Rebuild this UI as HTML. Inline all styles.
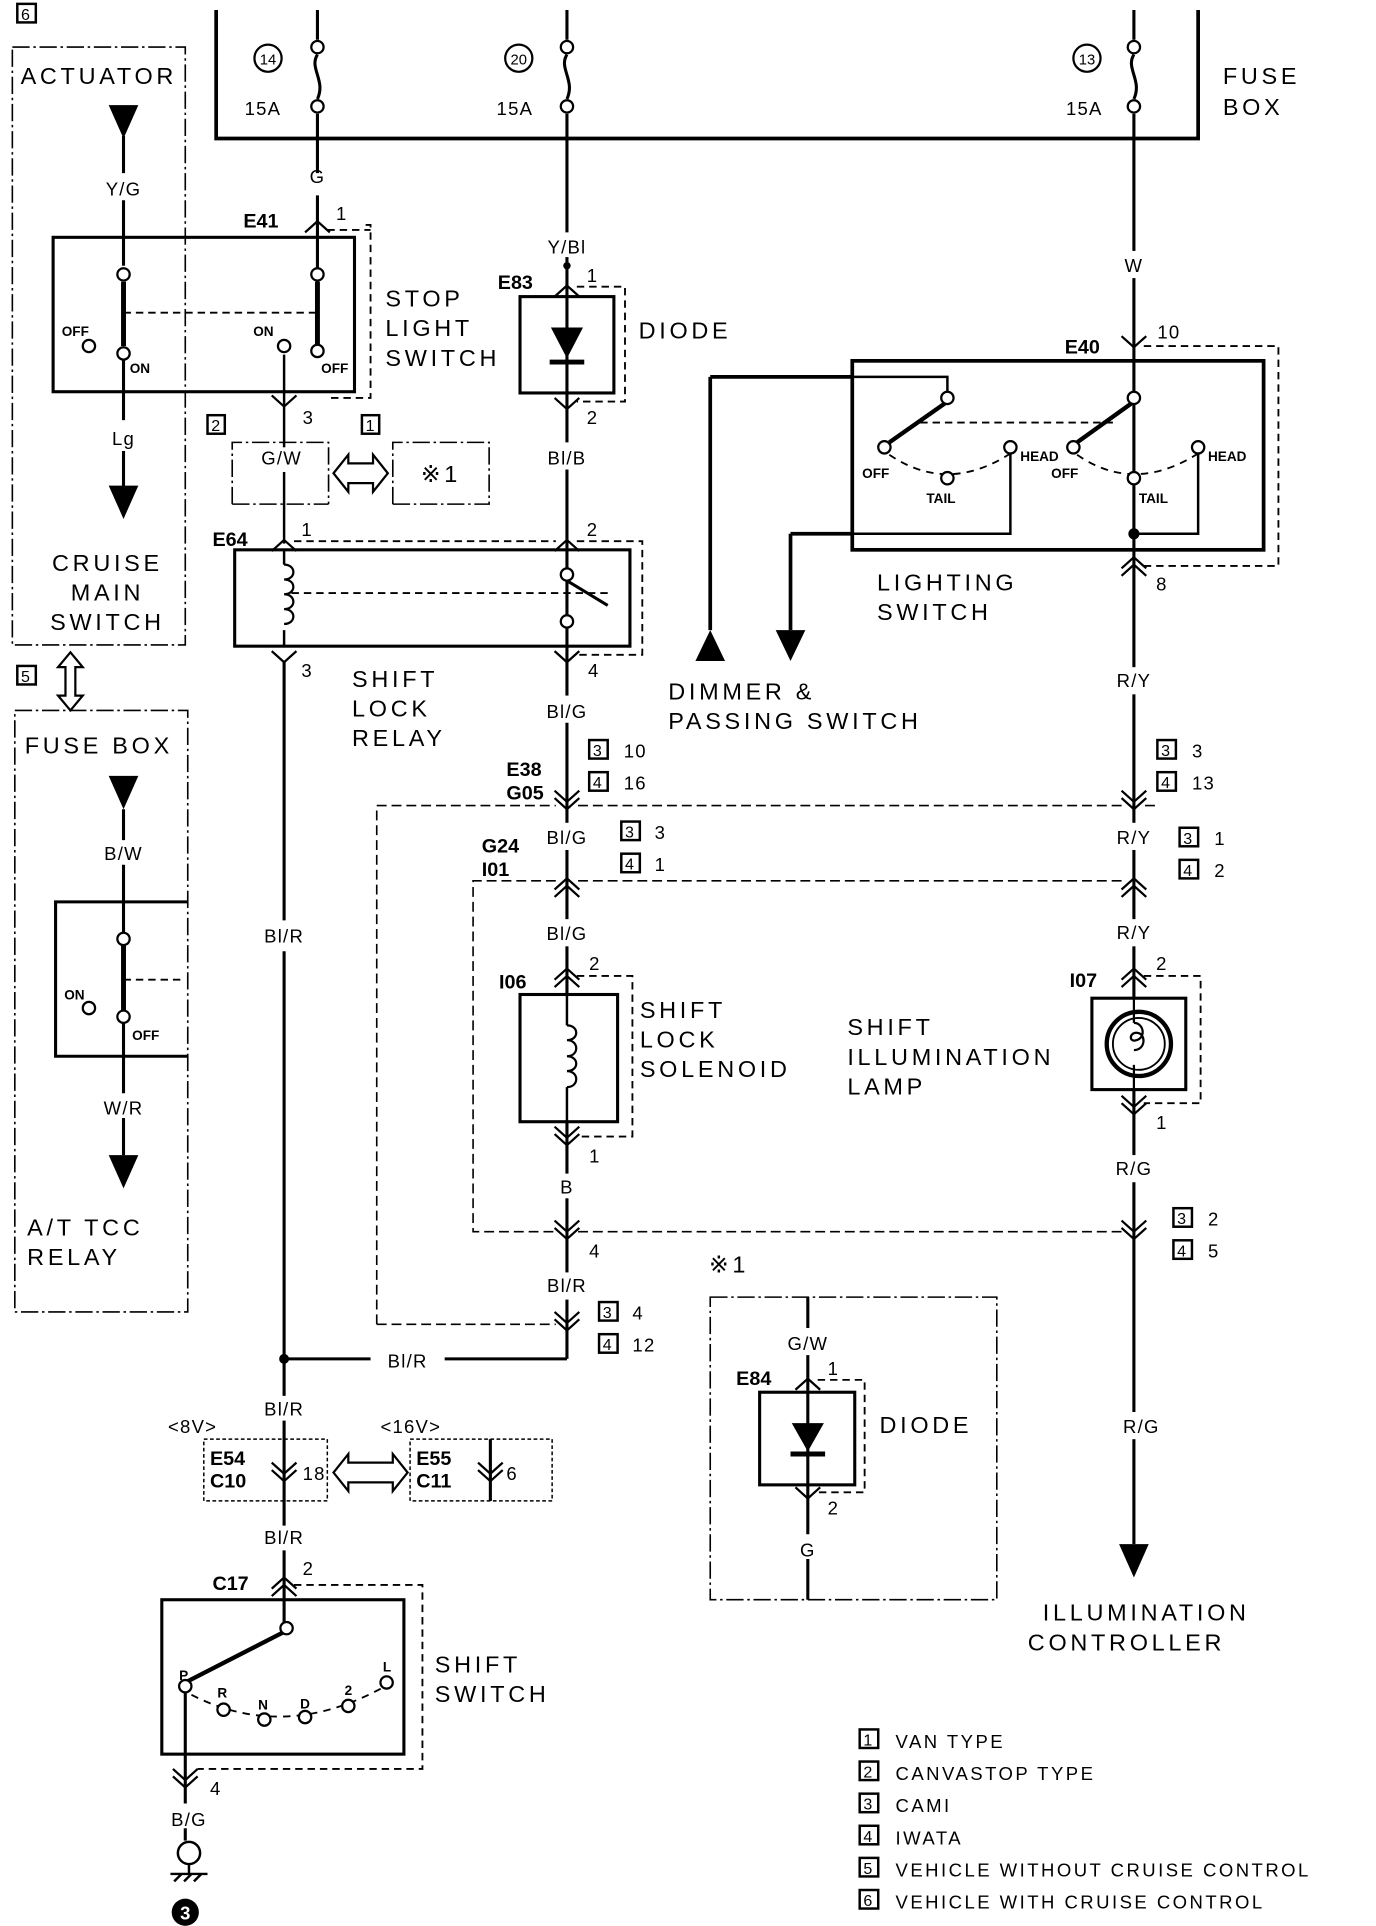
<!DOCTYPE html>
<html><head><meta charset="utf-8"><style>
html,body{margin:0;padding:0;background:#fff;}
svg{display:block;}
text{font-family:"Liberation Sans",sans-serif;fill:#000;}
.t{font-size:19px;letter-spacing:3px;}
.s{font-size:15px;letter-spacing:1px;}
.xs{font-size:11px;font-weight:bold;}
.b{font-size:16px;font-weight:bold;}
</style></head><body>
<svg width="1376" height="1926" viewBox="0 0 1114 1559" xmlns="http://www.w3.org/2000/svg">
<defs>
<g id="cu"><path d="M-10,8 L0,-1 L10,8" fill="none" stroke="#000" stroke-width="1.8"/></g>
<g id="cd"><path d="M-10,-8 L0,1 L10,-8" fill="none" stroke="#000" stroke-width="1.8"/></g>
<g id="cdd"><path d="M-10,-8 L0,1 L10,-8 M-10,-2 L0,7 L10,-2" fill="none" stroke="#000" stroke-width="1.8"/></g>
<g id="cuu"><path d="M-10,8 L0,-1 L10,8 M-10,14 L0,5 L10,14" fill="none" stroke="#000" stroke-width="1.8"/></g>
</defs>
<g stroke="#000" fill="none" stroke-width="2.5">
<path d="M175,8 V112 H970 V8" stroke-width="3"/>
<path d="M257,8 V32 M257,92 V140 M257,158 V280"/>
<path d="M459,8 V32 M459,92 V1100"/>
<path d="M918,8 V32 M918,92 V1250"/>
<path d="M257,44 C250,55 264,65 257,80 M459,44 C452,55 466,65 459,80 M918,44 C911,55 925,65 918,80" stroke-width="2.5"/>
</g>
<g stroke="#000" fill="#fff" stroke-width="1.8">
<circle cx="257" cy="38" r="5"/><circle cx="257" cy="86" r="5"/>
<circle cx="459" cy="38" r="5"/><circle cx="459" cy="86" r="5"/>
<circle cx="918" cy="38" r="5"/><circle cx="918" cy="86" r="5"/>
<circle cx="217" cy="47" r="11"/><circle cx="420" cy="47" r="11"/><circle cx="880" cy="47" r="11"/>
</g>
<text x="217" y="52" text-anchor="middle" style="font-size:12px">14</text>
<text x="420" y="52" text-anchor="middle" style="font-size:12px">20</text>
<text x="880" y="52" text-anchor="middle" style="font-size:12px">13</text>
<text x="198" y="93" class="s">15A</text><text x="402" y="93" class="s">15A</text><text x="863" y="93" class="s">15A</text>
<text x="990" y="68" class="t">FUSE</text><text x="990" y="93" class="t">BOX</text>

<rect x="14" y="3" width="15" height="15" fill="none" stroke="#000" stroke-width="2"/><text x="17" y="16" style="font-size:13px">6</text>
<rect x="10" y="38" width="140" height="484" fill="none" stroke="#000" stroke-width="1.3" stroke-dasharray="14,3,2,3"/>
<text x="80" y="68" class="t" text-anchor="middle">ACTUATOR</text>
<path d="M88,85 H112 L100,112 Z" fill="#000"/>
<g stroke="#000" fill="none" stroke-width="2.5">
<path d="M100,110 V140 M100,162 V215 M100,290 V340 M100,365 V395"/>
<rect x="43" y="192" width="244" height="125"/>
<path d="M100,228 V280 M257,228 V280" stroke-width="4"/>
<path d="M230,287 V440" stroke-width="2"/>
</g>
<path d="M100,253 H257" stroke="#000" stroke-dasharray="6,4" stroke-width="1.5"/>
<path d="M296,182 H300 V322 H265" fill="none" stroke="#000" stroke-dasharray="6,4" stroke-width="1.5"/>
<g stroke="#000" fill="#fff" stroke-width="1.8">
<circle cx="100" cy="222" r="5"/><circle cx="100" cy="286" r="5"/><circle cx="72" cy="280" r="5"/>
<circle cx="257" cy="222" r="5"/><circle cx="257" cy="284" r="5"/><circle cx="230" cy="280" r="5"/>
</g>
<text x="100" y="158" class="s" text-anchor="middle">Y/G</text>
<text x="50" y="272" class="xs">OFF</text><text x="105" y="302" class="xs">ON</text>
<text x="205" y="272" class="xs">ON</text><text x="260" y="302" class="xs">OFF</text>
<text x="100" y="360" class="s" text-anchor="middle">Lg</text>
<path d="M88,393 H112 L100,420 Z" fill="#000"/>
<text x="87" y="462" class="t" text-anchor="middle">CRUISE</text><text x="87" y="486" class="t" text-anchor="middle">MAIN</text><text x="87" y="510" class="t" text-anchor="middle">SWITCH</text>
<text x="257" y="148" class="s" text-anchor="middle">G</text>
<text x="197" y="184" class="b">E41</text><use href="#cu" x="257" y="180"/><text x="272" y="178" class="s">1</text>
<path d="M265,186 H300" stroke="#000" stroke-dasharray="6,4" stroke-width="1.5"/>
<text x="312" y="248" class="t">STOP</text><text x="312" y="272" class="t">LIGHT</text><text x="312" y="296" class="t">SWITCH</text>
<use href="#cd" x="230" y="328"/><text x="245" y="343" class="s">3</text>

<rect x="168" y="336" width="14" height="15" fill="none" stroke="#000" stroke-width="2"/><text x="171" y="349" style="font-size:13px">2</text>
<rect x="293" y="336" width="14" height="15" fill="none" stroke="#000" stroke-width="2"/><text x="296" y="349" style="font-size:13px">1</text>
<path d="M188,408 V358 H266 V408 M318,408 V358 H396 V408 H318 M188,408 H266" fill="none" stroke="#000" stroke-width="1.3" stroke-dasharray="14,3,2,3"/>
<path d="M270,383 L282,368 V375 H302 V368 L314,383 L302,398 V391 H282 V398 Z" fill="#fff" stroke="#000" stroke-width="1.8"/>
<rect x="210" y="362" width="40" height="20" fill="#fff"/>
<text x="228" y="376" class="s" text-anchor="middle">G/W</text>
<text x="357" y="390" class="t" text-anchor="middle">※1</text>

<text x="172" y="442" class="b">E64</text><use href="#cu" x="230" y="438"/><text x="244" y="434" class="s">1</text>
<use href="#cu" x="459" y="438"/><text x="475" y="434" class="s">2</text>
<rect x="190" y="445" width="320" height="78" fill="none" stroke="#000" stroke-width="2.5"/>
<path d="M467,438 H520 V530 H467 M238,438 H450" fill="none" stroke="#000" stroke-dasharray="6,4" stroke-width="1.5"/>
<path d="M230,445 V457 M230,510 V523" stroke="#000" stroke-width="2"/>
<path d="M230,457 c10,0 10,12 0,12 c10,0 10,12 0,12 c10,0 10,12 0,12 c10,0 10,12 0,12" fill="none" stroke="#000" stroke-width="1.8"/>
<path d="M236,480 H492" stroke="#000" stroke-dasharray="6,4" stroke-width="1.5"/>
<path d="M459,470 L492,490" stroke="#000" stroke-width="2.5"/>
<circle cx="459" cy="465" r="5" fill="#fff" stroke="#000" stroke-width="1.8"/><circle cx="459" cy="503" r="5" fill="#fff" stroke="#000" stroke-width="1.8"/>
<use href="#cd" x="230" y="535"/><text x="244" y="548" class="s">3</text>
<use href="#cd" x="459" y="535"/><text x="476" y="548" class="s">4</text>
<text x="285" y="556" class="t">SHIFT</text><text x="285" y="580" class="t">LOCK</text><text x="285" y="604" class="t">RELAY</text>
<path d="M230,535 V745 M230,770 V1130 M230,1150 V1235 M230,1255 V1320" stroke="#000" stroke-width="2.5" fill="none"/>
<text x="230" y="763" class="s" text-anchor="middle">Bl/R</text>

<rect x="440" y="188" width="40" height="20" fill="#fff"/><text x="459" y="205" class="s" text-anchor="middle">Y/Bl</text>
<circle cx="459" cy="215" r="3" fill="#000"/>
<text x="403" y="234" class="b">E83</text><use href="#cu" x="459" y="232"/><text x="475" y="228" class="s">1</text>
<rect x="421" y="240" width="76" height="78" fill="none" stroke="#000" stroke-width="2.5"/>
<path d="M467,232 H506 V325 H467" fill="none" stroke="#000" stroke-dasharray="6,4" stroke-width="1.5"/>
<path d="M446,265 H472 L459,290 Z" fill="#000"/><path d="M445,293 H473" stroke="#000" stroke-width="4"/>
<text x="517" y="274" class="t">DIODE</text>
<use href="#cd" x="459" y="330"/><text x="475" y="343" class="s">2</text>
<rect x="437" y="358" width="44" height="22" fill="#fff"/><text x="459" y="376" class="s" text-anchor="middle">Bl/B</text>
<rect x="437" y="563" width="44" height="22" fill="#fff"/><text x="459" y="581" class="s" text-anchor="middle">Bl/G</text>
<text x="410" y="628" class="b">E38</text><text x="410" y="647" class="b">G05</text>
<use href="#cdd" x="459" y="648"/>
<rect x="477" y="599" width="15" height="15" fill="none" stroke="#000" stroke-width="2"/><text x="480" y="612" style="font-size:13px">3</text><text x="505" y="613" class="s">10</text>
<rect x="477" y="625" width="15" height="15" fill="none" stroke="#000" stroke-width="2"/><text x="480" y="638" style="font-size:13px">4</text><text x="505" y="639" class="s">16</text>

<path d="M305,1072 V652 H450 M468,652 H909 M927,652 H936" fill="none" stroke="#000" stroke-width="1.3" stroke-dasharray="8,4"/>
<path d="M305,1072 H450" fill="none" stroke="#000" stroke-width="1.3" stroke-dasharray="8,4"/>
<path d="M450,713 H383 V997 H450 M468,713 H909 M468,997 H909" fill="none" stroke="#000" stroke-width="1.3" stroke-dasharray="8,4"/>

<rect x="437" y="666" width="44" height="22" fill="#fff"/><text x="459" y="683" class="s" text-anchor="middle">Bl/G</text>
<rect x="503" y="665" width="15" height="15" fill="none" stroke="#000" stroke-width="2"/><text x="506" y="678" style="font-size:13px">3</text><text x="530" y="679" class="s">3</text>
<text x="390" y="690" class="b">G24</text><text x="390" y="709" class="b">I01</text>
<use href="#cuu" x="459" y="712"/>
<rect x="503" y="691" width="15" height="15" fill="none" stroke="#000" stroke-width="2"/><text x="506" y="704" style="font-size:13px">4</text><text x="530" y="705" class="s">1</text>
<rect x="437" y="744" width="44" height="22" fill="#fff"/><text x="459" y="761" class="s" text-anchor="middle">Bl/G</text>
<use href="#cuu" x="459" y="785"/><text x="477" y="785" class="s">2</text>
<text x="404" y="800" class="b">I06</text>
<rect x="421" y="805" width="79" height="103" fill="#fff" stroke="#000" stroke-width="2.5"/>
<path d="M467,790 H512 V920 H467" fill="none" stroke="#000" stroke-dasharray="6,4" stroke-width="1.5"/>
<path d="M459,805 V830 M459,880 V908" stroke="#000" stroke-width="2"/>
<path d="M459,830 c10,0 10,12 0,12 c10,0 10,13 0,13 c10,0 10,12 0,12 c10,0 10,13 0,13" fill="none" stroke="#000" stroke-width="1.8"/>
<text x="518" y="824" class="t">SHIFT</text><text x="518" y="848" class="t">LOCK</text><text x="518" y="872" class="t">SOLENOID</text>
<use href="#cdd" x="459" y="920"/><text x="477" y="941" class="s">1</text>
<rect x="449" y="950" width="20" height="20" fill="#fff"/><text x="459" y="966" class="s" text-anchor="middle">B</text>
<use href="#cdd" x="459" y="996"/><text x="477" y="1018" class="s">4</text>
<rect x="437" y="1030" width="44" height="22" fill="#fff"/><text x="459" y="1046" class="s" text-anchor="middle">Bl/R</text>
<use href="#cdd" x="459" y="1070"/>
<rect x="485" y="1054" width="15" height="15" fill="none" stroke="#000" stroke-width="2"/><text x="488" y="1067" style="font-size:13px">3</text><text x="512" y="1068" class="s">4</text>
<rect x="485" y="1080" width="15" height="15" fill="none" stroke="#000" stroke-width="2"/><text x="488" y="1093" style="font-size:13px">4</text><text x="512" y="1094" class="s">12</text>
<path d="M230,1100 H300 M360,1100 H459" stroke="#000" stroke-width="2.5"/>
<circle cx="230" cy="1100" r="4" fill="#000"/>
<text x="330" y="1107" class="s" text-anchor="middle">Bl/R</text>
<text x="230" y="1146" class="s" text-anchor="middle">Bl/R</text>

<text x="136" y="1160" class="s">&lt;8V&gt;</text><text x="308" y="1160" class="s">&lt;16V&gt;</text>
<rect x="165" y="1165" width="100" height="50" fill="none" stroke="#000" stroke-width="1.2" stroke-dasharray="3,2"/>
<rect x="332" y="1165" width="115" height="50" fill="none" stroke="#000" stroke-width="1.2" stroke-dasharray="3,2"/>
<path d="M397,1165 V1215" stroke="#000" stroke-width="2.5"/>
<text x="170" y="1186" class="b">E54</text><text x="170" y="1204" class="b">C10</text>
<text x="337" y="1186" class="b">E55</text><text x="337" y="1204" class="b">C11</text>
<use href="#cdd" x="230" y="1192"/><text x="245" y="1198" class="s">18</text>
<use href="#cdd" x="397" y="1192"/><text x="410" y="1198" class="s">6</text>
<path d="M270,1192 L282,1177 V1184 H318 V1177 L330,1192 L318,1207 V1200 H282 V1207 Z" fill="#fff" stroke="#000" stroke-width="1.8"/>
<text x="230" y="1250" class="s" text-anchor="middle">Bl/R</text>

<text x="172" y="1287" class="b">C17</text><use href="#cuu" x="230" y="1278"/><text x="245" y="1275" class="s">2</text>
<rect x="131" y="1295" width="196" height="125" fill="none" stroke="#000" stroke-width="2.5"/>
<path d="M238,1283 H342 V1432 H160" fill="none" stroke="#000" stroke-dasharray="6,4" stroke-width="1.5"/>
<path d="M232,1320 L150,1362" stroke="#000" stroke-width="3.5"/>
<path d="M150,1365 V1460" stroke="#000" stroke-width="2.5"/>
<path d="M155,1372 Q230,1410 310,1366" fill="none" stroke="#000" stroke-dasharray="6,5" stroke-width="1.5"/>
<g fill="#fff" stroke="#000" stroke-width="1.8">
<circle cx="232" cy="1318" r="5"/><circle cx="150" cy="1365" r="5"/><circle cx="181" cy="1384" r="5"/><circle cx="214" cy="1392" r="5"/><circle cx="247" cy="1390" r="5"/><circle cx="282" cy="1381" r="5"/><circle cx="313" cy="1362" r="5"/>
</g>
<text x="145" y="1360" class="xs">P</text><text x="176" y="1374" class="xs">R</text><text x="209" y="1384" class="xs">N</text><text x="243" y="1383" class="xs">D</text><text x="279" y="1372" class="xs">2</text><text x="310" y="1353" class="xs">L</text>
<text x="352" y="1354" class="t">SHIFT</text><text x="352" y="1378" class="t">SWITCH</text>
<use href="#cdd" x="150" y="1440"/><text x="170" y="1453" class="s">4</text>
<rect x="130" y="1462" width="44" height="20" fill="#fff"/><text x="153" y="1478" class="s" text-anchor="middle">B/G</text>
<path d="M150,1480 V1490" stroke="#000" stroke-width="2.5"/>
<circle cx="153" cy="1500" r="9" fill="#fff" stroke="#000" stroke-width="2"/>
<path d="M153,1509 V1516 M138,1517 H168 M141,1523 L147,1517 M149,1523 L155,1517 M157,1523 L163,1517" stroke="#000" stroke-width="2"/>
<circle cx="150" cy="1548" r="11" fill="#000"/><text x="150" y="1554" text-anchor="middle" style="font-size:15px;font-weight:bold;fill:#fff">3</text>

<path d="M57,528 L67,540 H61 V563 H67 L57,575 L47,563 H53 V540 H47 Z" fill="#fff" stroke="#000" stroke-width="1.8"/>
<rect x="14" y="539" width="15" height="15" fill="none" stroke="#000" stroke-width="2"/><text x="17" y="552" style="font-size:13px">5</text>
<rect x="12" y="575" width="140" height="487" fill="none" stroke="#000" stroke-width="1.3" stroke-dasharray="14,3,2,3"/>
<text x="80" y="610" class="t" text-anchor="middle">FUSE BOX</text>
<path d="M88,628 H112 L100,655 Z" fill="#000"/>
<path d="M100,655 V680 M100,700 V755 M100,828 V885 M100,905 V935" stroke="#000" stroke-width="2.5"/>
<text x="100" y="696" class="s" text-anchor="middle">B/W</text>
<path d="M152,730 H45 V855 H152" fill="none" stroke="#000" stroke-width="2.5"/>
<path d="M100,765 V818" stroke="#000" stroke-width="4"/>
<path d="M100,793 H150" stroke="#000" stroke-dasharray="6,4" stroke-width="1.5"/>
<g fill="#fff" stroke="#000" stroke-width="1.8"><circle cx="100" cy="760" r="5"/><circle cx="100" cy="823" r="5"/><circle cx="72" cy="816" r="5"/></g>
<text x="52" y="809" class="xs">ON</text><text x="107" y="842" class="xs">OFF</text>
<text x="100" y="902" class="s" text-anchor="middle">W/R</text>
<path d="M88,935 H112 L100,962 Z" fill="#000"/>
<text x="22" y="1000" class="t">A/T TCC</text><text x="22" y="1024" class="t">RELAY</text>

<rect x="905" y="203" width="26" height="22" fill="#fff"/><text x="918" y="220" class="s" text-anchor="middle">W</text>
<text x="862" y="286" class="b">E40</text><use href="#cd" x="918" y="280"/><text x="937" y="274" class="s">10</text>
<path d="M926,280 H1035 V458 H926" fill="none" stroke="#000" stroke-dasharray="6,4" stroke-width="1.5"/>
<rect x="690" y="292" width="333" height="153" fill="none" stroke="#000" stroke-width="3"/>
<path d="M690,305 H767 V318 M690,432 H818 V367 M918,432 H970 V367" fill="none" stroke="#000" stroke-width="2"/>
<path d="M575,305 H690 M640,432 H690" stroke="#000" stroke-width="3"/>
<path d="M575,305 V510 M640,432 V510" stroke="#000" stroke-width="3"/>
<path d="M563,535 H587 L575,510 Z" fill="#000"/><path d="M628,510 H652 L640,535 Z" fill="#000"/>
<path d="M767,325 L720,358 M918,325 L872,358" stroke="#000" stroke-width="3.5"/>
<path d="M745,342 H905" stroke="#000" stroke-dasharray="6,4" stroke-width="1.5"/>
<path d="M720,368 Q767,400 818,367 M872,368 Q918,400 970,367" fill="none" stroke="#000" stroke-dasharray="6,5" stroke-width="1.5"/>
<g fill="#fff" stroke="#000" stroke-width="1.8">
<circle cx="767" cy="322" r="5"/><circle cx="716" cy="362" r="5"/><circle cx="818" cy="362" r="5"/><circle cx="767" cy="387" r="5"/>
<circle cx="918" cy="322" r="5"/><circle cx="869" cy="362" r="5"/><circle cx="970" cy="362" r="5"/><circle cx="918" cy="387" r="5"/>
</g>
<circle cx="918" cy="432" r="4.5" fill="#000"/>
<text x="698" y="387" class="xs">OFF</text><text x="750" y="407" class="xs">TAIL</text><text x="826" y="373" class="xs">HEAD</text>
<text x="851" y="387" class="xs">OFF</text><text x="922" y="407" class="xs">TAIL</text><text x="978" y="373" class="xs">HEAD</text>
<use href="#cuu" x="918" y="452"/><text x="936" y="478" class="s">8</text>
<text x="710" y="478" class="t">LIGHTING</text><text x="710" y="502" class="t">SWITCH</text>
<text x="541" y="566" class="t">DIMMER &amp;</text><text x="541" y="590" class="t">PASSING SWITCH</text>
<rect x="896" y="540" width="44" height="22" fill="#fff"/><text x="918" y="556" class="s" text-anchor="middle">R/Y</text>
<use href="#cdd" x="918" y="648"/>
<rect x="937" y="599" width="15" height="15" fill="none" stroke="#000" stroke-width="2"/><text x="940" y="612" style="font-size:13px">3</text><text x="965" y="613" class="s">3</text>
<rect x="937" y="625" width="15" height="15" fill="none" stroke="#000" stroke-width="2"/><text x="940" y="638" style="font-size:13px">4</text><text x="965" y="639" class="s">13</text>
<rect x="896" y="666" width="44" height="22" fill="#fff"/><text x="918" y="683" class="s" text-anchor="middle">R/Y</text>
<rect x="955" y="670" width="15" height="15" fill="none" stroke="#000" stroke-width="2"/><text x="958" y="683" style="font-size:13px">3</text><text x="983" y="684" class="s">1</text>
<rect x="955" y="696" width="15" height="15" fill="none" stroke="#000" stroke-width="2"/><text x="958" y="709" style="font-size:13px">4</text><text x="983" y="710" class="s">2</text>
<use href="#cuu" x="918" y="712"/>
<rect x="896" y="744" width="44" height="22" fill="#fff"/><text x="918" y="760" class="s" text-anchor="middle">R/Y</text>
<use href="#cuu" x="918" y="785"/><text x="936" y="785" class="s">2</text>
<text x="866" y="799" class="b">I07</text>
<path d="M926,790 H972 V893 H926" fill="none" stroke="#000" stroke-dasharray="6,4" stroke-width="1.5"/>
<rect x="884" y="808" width="76" height="74" fill="#fff" stroke="#000" stroke-width="2.5"/>
<circle cx="922" cy="845" r="26" fill="#fff" stroke="#000" stroke-width="3.5"/>
<circle cx="922" cy="845" r="21" fill="none" stroke="#000" stroke-width="1.5"/>
<path d="M918,808 V828 M918,862 V882 M918,828 c8,0 10,12 2,14 c-6,2 -6,-6 0,-6 c8,0 8,14 -2,14" fill="none" stroke="#000" stroke-width="1.8"/>
<text x="686" y="838" class="t">SHIFT</text><text x="686" y="862" class="t">ILLUMINATION</text><text x="686" y="886" class="t">LAMP</text>
<use href="#cdd" x="918" y="895"/><text x="936" y="914" class="s">1</text>
<rect x="896" y="935" width="44" height="22" fill="#fff"/><text x="918" y="951" class="s" text-anchor="middle">R/G</text>
<use href="#cdd" x="918" y="996"/>
<rect x="950" y="978" width="15" height="15" fill="none" stroke="#000" stroke-width="2"/><text x="953" y="991" style="font-size:13px">3</text><text x="978" y="992" class="s">2</text>
<rect x="950" y="1004" width="15" height="15" fill="none" stroke="#000" stroke-width="2"/><text x="953" y="1017" style="font-size:13px">4</text><text x="978" y="1018" class="s">5</text>
<rect x="900" y="1143" width="48" height="22" fill="#fff"/><text x="924" y="1160" class="s" text-anchor="middle">R/G</text>
<path d="M906,1250 H930 L918,1277 Z" fill="#000"/>
<text x="928" y="1312" class="t" text-anchor="middle">ILLUMINATION</text><text x="912" y="1336" class="t" text-anchor="middle">CONTROLLER</text>

<text x="574" y="1030" class="t">※1</text>
<rect x="575" y="1050" width="232" height="245" fill="none" stroke="#000" stroke-width="1.3" stroke-dasharray="14,3,2,3"/>
<path d="M654,1050 V1075 M654,1097 V1242 M654,1262 V1295" stroke="#000" stroke-width="2.5"/>
<text x="654" y="1093" class="s" text-anchor="middle">G/W</text>
<text x="596" y="1121" class="b">E84</text><use href="#cu" x="654" y="1117"/><text x="670" y="1113" class="s">1</text>
<rect x="615" y="1127" width="77" height="75" fill="#fff" stroke="#000" stroke-width="2.5"/>
<path d="M662,1117 H700 V1208 H662" fill="none" stroke="#000" stroke-dasharray="6,4" stroke-width="1.5"/>
<path d="M654,1127 V1202" stroke="#000" stroke-width="2.5"/>
<path d="M641,1152 H667 L654,1175 Z" fill="#000"/><path d="M640,1177 H668" stroke="#000" stroke-width="4"/>
<text x="712" y="1160" class="t">DIODE</text>
<use href="#cd" x="654" y="1212"/><text x="670" y="1226" class="s">2</text>
<text x="654" y="1260" class="s" text-anchor="middle">G</text>

<g>
<rect x="696" y="1400" width="15" height="15" fill="none" stroke="#000" stroke-width="2"/><text x="699" y="1413" style="font-size:13px">1</text><text x="725" y="1415" class="s" style="letter-spacing:2px">VAN TYPE</text>
<rect x="696" y="1426" width="15" height="15" fill="none" stroke="#000" stroke-width="2"/><text x="699" y="1439" style="font-size:13px">2</text><text x="725" y="1441" class="s" style="letter-spacing:2px">CANVASTOP TYPE</text>
<rect x="696" y="1452" width="15" height="15" fill="none" stroke="#000" stroke-width="2"/><text x="699" y="1465" style="font-size:13px">3</text><text x="725" y="1467" class="s" style="letter-spacing:2px">CAMI</text>
<rect x="696" y="1478" width="15" height="15" fill="none" stroke="#000" stroke-width="2"/><text x="699" y="1491" style="font-size:13px">4</text><text x="725" y="1493" class="s" style="letter-spacing:2px">IWATA</text>
<rect x="696" y="1504" width="15" height="15" fill="none" stroke="#000" stroke-width="2"/><text x="699" y="1517" style="font-size:13px">5</text><text x="725" y="1519" class="s" style="letter-spacing:2px">VEHICLE WITHOUT CRUISE CONTROL</text>
<rect x="696" y="1530" width="15" height="15" fill="none" stroke="#000" stroke-width="2"/><text x="699" y="1543" style="font-size:13px">6</text><text x="725" y="1545" class="s" style="letter-spacing:2px">VEHICLE WITH CRUISE CONTROL</text>
</g>
</svg>
</body></html>
